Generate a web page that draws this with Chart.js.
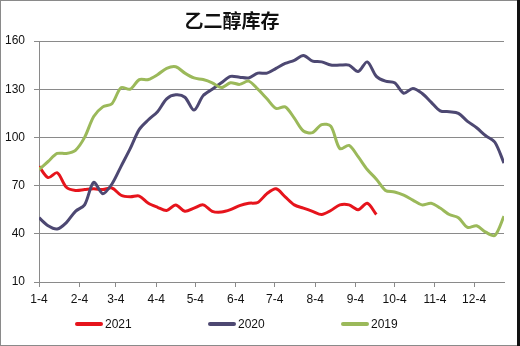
<!DOCTYPE html>
<html>
<head>
<meta charset="utf-8">
<script src="https://cdn.jsdelivr.net/npm/chart.js@4.4.1/dist/chart.umd.min.js"></script>
<style>
    body { margin: 0; background: #fff; }
    canvas { display: block; }
</style>
</head>
<body>
<canvas id="stockChart" width="520" height="346"></canvas>
<script>
const titleText = '乙二醇库存';

// x ticks: day offset from Jan 4, labels as in the picture
const monthDays = [0, 31, 59, 90, 120, 151, 181, 212, 243, 273, 304, 334];
const monthLabels = ['1-4', '2-4', '3-4', '4-4', '5-4', '6-4', '7-4', '8-4', '9-4', '10-4', '11-4', '12-4'];

const yTicks = [10, 40, 70, 100, 130, 160];

const seriesNames = ['2021', '2020', '2019'];
const seriesColors = ['#e6141c', '#4d4872', '#9bb95a'];

// weekly inventory, week 0 = Jan 4
const stock2021 = [82, 75, 78, 69, 67, 67.5, 68, 67.5, 68.5, 64, 63, 63.5, 59, 56.5, 54.5, 58, 54, 56, 58,
    54, 53.5, 55, 57.5, 59, 59.5, 65, 68, 63, 58, 56, 54, 52, 54.5, 58, 58, 55, 59, 52];
const stock2020 = [50, 45, 43, 47, 54, 58, 72, 65, 71, 82, 93, 105, 111, 116, 124, 126.5, 125, 117, 126,
    130, 134, 138, 137.5, 137, 140, 140, 143, 146, 148, 151, 147.5, 147, 145, 145, 145, 141, 147, 138,
    135, 134, 127.5, 130.5, 127.5, 122, 116.5, 116, 115, 110, 106, 101, 97, 84];
const stock2019 = [80, 85, 90, 90, 92, 100, 113, 119, 121, 131, 130, 136, 136, 139, 143, 144, 140, 137, 136,
    134, 131, 134, 133, 135, 130, 124, 118, 119, 112, 104, 103, 108, 107, 93, 95, 88, 80, 74, 67, 66,
    64, 61, 58, 59, 56, 52, 50, 44, 45, 41, 39, 51];

const allSeries = [stock2021, stock2020, stock2019];

function toPoints(values) {
    return values.map((v, i) => ({ x: i * 7, y: v }));
}

const frame = {
    id: 'frame',
    afterDraw(chart) {
        const c = chart.ctx;
        c.save();
        // outer border
        c.strokeStyle = '#8a8a8a';
        c.lineWidth = 1;
        c.strokeRect(0.5, 0.5, chart.width - 1, chart.height - 1);
        c.fillStyle = '#111';
        c.fillRect(chart.width - 3, 0, 3, chart.height);

        // title
        c.fillStyle = '#111';
        c.font = 'bold 19px "Noto Sans CJK SC"';
        c.textAlign = 'center';
        c.textBaseline = 'middle';
        c.fillText(titleText, 232, 21);

        // legend
        c.font = '12px "Liberation Sans"';
        c.textAlign = 'left';
        chart.data.datasets.forEach((ds, i) => {
            const x = 76 + i * 133;
            const y = 324;
            c.strokeStyle = ds.borderColor;
            c.lineWidth = 4;
            c.lineCap = 'round';
            c.beginPath();
            c.moveTo(x + 1, y);
            c.lineTo(x + 25, y);
            c.stroke();
            c.fillStyle = '#111';
            c.fillText(ds.label, x + 29, y + 1);
        });
        c.restore();
    }
};

new Chart(document.getElementById('stockChart'), {
    type: 'line',
    data: {
        datasets: allSeries.map((values, i) => ({
            label: seriesNames[i],
            data: toPoints(values),
            borderColor: seriesColors[i],
            backgroundColor: seriesColors[i],
            borderWidth: 3,
            pointRadius: 0,
            tension: 0.3,
            order: 3 - i,
        })),
    },
    options: {
        responsive: false,
        animation: false,
        layout: {
            padding: { top: 41, left: 0, right: 16, bottom: 36 },
        },
        plugins: {
            legend: { display: false },
            title: { display: false },
            tooltip: { enabled: false },
        },
        scales: {
            x: {
                type: 'linear',
                min: 0,
                max: 357,
                afterBuildTicks: (scale) => {
                    scale.ticks = monthDays.map(v => ({ value: v }));
                },
                afterFit: (scale) => {
                    scale.height = 28;
                },
                ticks: {
                    autoSkip: false,
                    maxRotation: 0,
                    padding: 5,
                    color: '#111',
                    font: { family: 'Liberation Sans', size: 12 },
                    callback: (value, index) => monthLabels[index],
                },
                grid: {
                    drawOnChartArea: false,
                    drawTicks: true,
                    tickLength: 5,
                    color: '#8a8a8a',
                },
                border: { display: true, color: '#8a8a8a' },
            },
            y: {
                min: 10,
                max: 160,
                afterBuildTicks: (scale) => {
                    scale.ticks = yTicks.map(v => ({ value: v }));
                },
                afterFit: (scale) => {
                    scale.width = 39;
                },
                ticks: {
                    padding: 9,
                    color: '#111',
                    font: { family: 'Liberation Sans', size: 12 },
                },
                grid: {
                    color: '#8a8a8a',
                    drawTicks: true,
                    tickLength: 5,
                },
                border: { display: true, color: '#8a8a8a' },
            },
        },
    },
    plugins: [frame],
});
</script>
</body>
</html>
